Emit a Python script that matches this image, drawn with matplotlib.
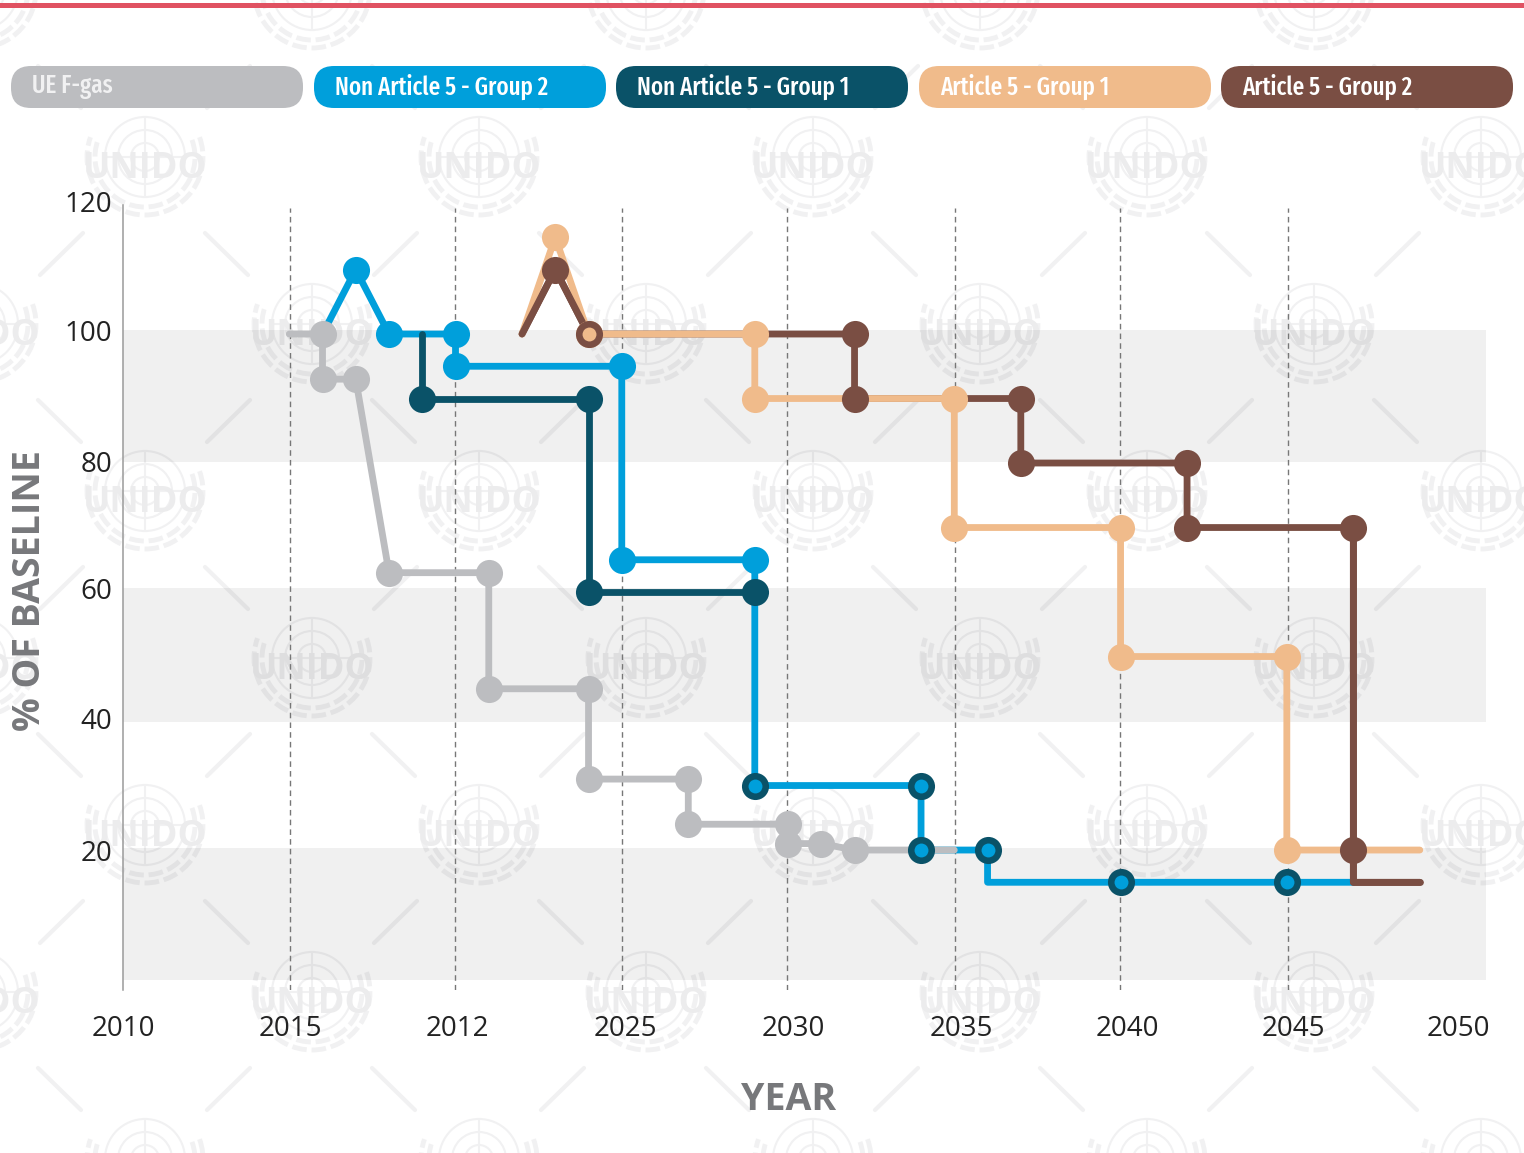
import matplotlib
matplotlib.use("Agg")
import matplotlib.pyplot as plt
from matplotlib import font_manager
from matplotlib.patches import Circle, Arc, FancyBboxPatch, Rectangle

# series paths (year, % of baseline)
fgas_x = [2015, 2016, 2016, 2017, 2018, 2021, 2021, 2024, 2024, 2027, 2027, 2030, 2030, 2031, 2032, 2035]
fgas_y = [100, 100, 93, 93, 63, 63, 45, 45, 31, 31, 24, 24, 21, 21, 20, 20]
fgas_mx = [2016, 2016, 2017, 2018, 2021, 2021, 2024, 2024, 2027, 2027, 2030, 2030, 2031, 2032]
fgas_my = [100, 93, 93, 63, 63, 45, 45, 31, 31, 24, 24, 21, 21, 20]

na5g2_x = [2016, 2017, 2018, 2020, 2020, 2025, 2025, 2029, 2029, 2034, 2034, 2036, 2036, 2047]
na5g2_y = [100, 110, 100, 100, 95, 95, 65, 65, 30, 30, 20, 20, 15, 15]
na5g2_mx = [2017, 2018, 2020, 2020, 2025, 2025, 2029]
na5g2_my = [110, 100, 100, 95, 95, 65, 65]

na5g1_x = [2019, 2019, 2024, 2024, 2029]
na5g1_y = [100, 90, 90, 60, 60]
na5g1_mx = [2019, 2024, 2024, 2029]
na5g1_my = [90, 90, 60, 60]

# shared points, dark ring with blue centre
ring_x = [2029, 2034, 2034, 2036, 2040, 2045]
ring_y = [30, 30, 20, 20, 15, 15]

a5g1_x = [2022, 2023, 2024, 2029, 2029, 2035, 2035, 2040, 2040, 2045, 2045, 2049]
a5g1_y = [100, 115, 100, 100, 90, 90, 70, 70, 50, 50, 20, 20]
a5g1_mx = [2023, 2024, 2029, 2029, 2035, 2035, 2040, 2040, 2045, 2045]
a5g1_my = [115, 100, 100, 90, 90, 70, 70, 50, 50, 20]

a5g2_x = [2022, 2023, 2024, 2032, 2032, 2037, 2037, 2042, 2042, 2047, 2047, 2049]
a5g2_y = [100, 110, 100, 100, 90, 90, 80, 80, 70, 70, 15, 15]
a5g2_mx = [2023, 2032, 2032, 2037, 2037, 2042, 2042, 2047, 2047]
a5g2_my = [110, 100, 90, 90, 80, 80, 70, 70, 20]

legend_names = ["UE F-gas", "Non Article 5 - Group 2", "Non Article 5 - Group 1",
                "Article 5 - Group 1", "Article 5 - Group 2"]
year_ticks = [2010, 2015.02, 2020.05, 2025.1, 2030.15, 2035.2, 2040.2, 2045.2, 2050.15]
year_labels = ["2010", "2015", "2012", "2025", "2030", "2035", "2040", "2045", "2050"]
value_ticks = [120.6, 100.6, 80.2, 60.6, 40.4, 20]
value_labels = ["120", "100", "80", "60", "40", "20"]
guide_years = [2015.02, 2019.97, 2025, 2029.97, 2035.02, 2039.97, 2045.03]
bands = [(-0.15, 20.3), (39.85, 60.6), (80.15, 100.6)]

GRAY = "#bcbdc0"
BLUE = "#009fdb"
DARK = "#0a5268"
PEACH = "#f0bb8b"
BROWN = "#7a4e43"
colors = [GRAY, BLUE, DARK, PEACH, BROWN]
TEXT_FONT = ["Open Sans", "DejaVu Sans"]
LW = 4.9
MS = 19.5

# narrow face for the pills if it is there, otherwise a smaller Open Sans
installed = {f.name for f in font_manager.fontManager.ttflist}
if "Fira Sans Extra Condensed" in installed:
    pill_font = ["Fira Sans Extra Condensed", "Open Sans"]
    pill_size = 18
else:
    pill_font = TEXT_FONT
    pill_size = 14

W, H = 1524, 1153
fig = plt.figure(figsize=(W / 100, H / 100), dpi=100, facecolor="white")

# pixel-space layer for the watermark, top rule and legend pills
bg = fig.add_axes([0, 0, 1, 1], zorder=0)
bg.set_xlim(0, W)
bg.set_ylim(H, 0)
bg.axis("off")

WM = "#f1f1f2"


def emblem(cx, cy):
    for r in [40, 27, 14]:
        bg.add_patch(Circle((cx, cy - 8), r, fill=False, ec=WM, lw=1.5))
    bg.plot([cx - 40, cx + 40], [cy - 8, cy - 8], c=WM, lw=1.5)
    bg.plot([cx, cx], [cy - 48, cy + 32], c=WM, lw=1.5)
    for r in [50, 58]:
        bg.add_patch(Arc((cx, cy - 8), 2 * r, 2 * r, theta1=-20, theta2=200, ec=WM, lw=3.5,
                         ls=(0, (3, 1))))
    bg.plot([cx - 105, cx - 62], [cy + 110, cy + 68], c=WM, lw=3, solid_capstyle="round")
    bg.plot([cx + 60, cx + 103], [cy + 68, cy + 110], c=WM, lw=3, solid_capstyle="round")
    # the word shows on every row but the cropped top and bottom ones
    if -30 < cx < W and 15 < cy < H - 15:
        bg.text(cx, cy + 4, "UNIDO", ha="center", va="center", fontsize=26, fontweight="bold",
                family=TEXT_FONT, color="#ececed")


for row in range(-1, 7):
    cy = 165 + 167 * row
    start = -189 if row % 2 == 0 else -22
    for col in range(6):
        emblem(start + 334 * col, cy)

bg.add_patch(Rectangle((0, 3), W, 4.5, fc="#e05262", ec="none", zorder=5))

pill_left = [11, 314, 616, 919, 1221]
for i in range(len(legend_names)):
    bg.add_patch(FancyBboxPatch((pill_left[i] + 20, 66 + 20), 292 - 40, 42 - 40,
                                boxstyle="round,pad=20,rounding_size=20", fc=colors[i], ec="none", zorder=5))
    bg.text(pill_left[i] + 21, 87, legend_names[i], ha="left", va="center", fontsize=pill_size,
            fontweight=500, family=pill_font, zorder=6,
            color="#f1f1f2" if i == 0 else "white")

# chart itself, in year/value units; top edge leaves room for the 120 label
ax = fig.add_axes([123 / W, (H - 990) / H, (1486 - 123) / W, (990 - 200.5) / H], zorder=1)
ax.patch.set_alpha(0)

for lo, hi in bands:
    ax.axhspan(lo, hi, color="black", alpha=0.06, lw=0, zorder=1)
ax.vlines(guide_years, -1.7, 119.5, colors="#777777", linestyles=(0, (4, 3)), lw=1, zorder=2)


def path(x, y, color, z):
    ax.plot(x, y, c=color, lw=LW, zorder=z, solid_capstyle="round", solid_joinstyle="round", clip_on=False)


def dots(x, y, color, z, size=MS):
    ax.plot(x, y, ls="none", marker="o", ms=size, mfc=color, mec="none", zorder=z, clip_on=False)


path(fgas_x, fgas_y, GRAY, 4)
dots(fgas_mx, fgas_my, GRAY, 5)

path(na5g2_x, na5g2_y, BLUE, 3)
path(na5g1_x, na5g1_y, DARK, 3)
dots(na5g1_mx, na5g1_my, DARK, 6)
dots(na5g2_mx, na5g2_my, BLUE, 6)
dots(ring_x, ring_y, DARK, 7)
dots(ring_x, ring_y, BLUE, 8, size=10)

path(a5g2_x, a5g2_y, BROWN, 3.2)
path(a5g1_x, a5g1_y, PEACH, 3.4)
# brown runs over the peach at the peak and at the final drop
path(a5g2_x[:3], a5g2_y[:3], BROWN, 3.6)
path(a5g2_x[-3:], a5g2_y[-3:], BROWN, 3.6)
dots(a5g1_mx, a5g1_my, PEACH, 6)
dots(a5g2_mx, a5g2_my, BROWN, 7)
dots([2024], [100], BROWN, 7)
dots([2024], [100], PEACH, 8, size=10)

for side in ["top", "right", "bottom"]:
    ax.spines[side].set_visible(False)
ax.spines["left"].set_color("#9a9a9a")
ax.spines["left"].set_linewidth(1.1)
ax.spines["left"].set_bounds(-1.7, 120)

ax.set_xticks(year_ticks)
ax.set_xticklabels(year_labels, family=TEXT_FONT, fontsize=20, color="#222222")
ax.set_yticks(value_ticks)
ax.set_yticklabels(value_labels, family=TEXT_FONT, fontsize=20, color="#222222")
ax.tick_params(axis="x", length=0, pad=18)
ax.tick_params(axis="y", length=0, pad=8)
ax.set_xlim(2010, 2050.99)
ax.set_ylim(-1.7, 120.7)

bg.text(789, 1100, "YEAR", ha="center", va="center", fontsize=27, fontweight="bold",
        family=TEXT_FONT, color="#77787b")
bg.text(30, 591, "% OF BASELINE", ha="center", va="center", rotation=90, fontsize=27,
        fontweight="bold", family=TEXT_FONT, color="#77787b")

fig.savefig("out.png", dpi=100)
